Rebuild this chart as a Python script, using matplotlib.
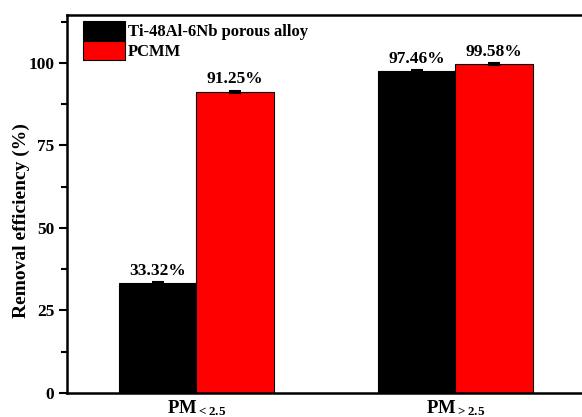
import matplotlib
matplotlib.use("Agg")
import matplotlib.pyplot as plt
import numpy as np
from matplotlib.ticker import MultipleLocator

plt.rcParams['font.family'] = ['Liberation Serif']
plt.rcParams['font.weight'] = 'bold'
plt.rcParams['mathtext.fontset'] = 'custom'
plt.rcParams['mathtext.rm'] = 'Liberation Serif:bold'
plt.rcParams['mathtext.it'] = 'Liberation Serif:bold'
plt.rcParams['mathtext.bf'] = 'Liberation Serif:bold'

categories = ["PM$_{<2.5}$", "PM$_{>2.5}$"]
series_names = ["Ti-48Al-6Nb porous alloy", "PCMM"]
alloy = [33.32, 97.46]
pcmm = [91.25, 99.58]
alloy_err = [0.3, 0.3]
pcmm_err = [0.3, 0.3]
colors = ["black", "red"]

fig = plt.figure(figsize=(5.82, 4.17), dpi=100)
ax = fig.add_axes([0.115, 0.0576, 0.89, 0.9064])

x = np.arange(len(categories))
w = 0.3
for vals, errs, col, name, off in [(alloy, alloy_err, colors[0], series_names[0], -w/2),
                                   (pcmm, pcmm_err, colors[1], series_names[1], w/2)]:
    ax.bar(x + off, vals, w, color=col, edgecolor='black', linewidth=0.8, label=name,
           yerr=errs, capsize=4, error_kw=dict(elinewidth=1, capthick=1.5, ecolor='black'))
    for xi, v in zip(x + off, vals):
        ax.text(xi, v + 1.3, f"{v:.2f}%", ha='center', va='bottom', fontsize=12.5, fontweight='bold')

ax.set_xlim(-0.5, 1.5)
ax.set_ylim(0, 114.5)
ax.set_xticks(x)
ax.set_xticklabels(categories, fontsize=13.5)
ax.tick_params(axis='x', length=0, pad=4)
ax.yaxis.set_major_locator(MultipleLocator(25))
ax.yaxis.set_minor_locator(MultipleLocator(12.5))
ax.tick_params(axis='y', which='major', length=6, width=1.5, direction='out', labelsize=12.5, pad=3)
ax.tick_params(axis='y', which='minor', length=4, width=1.5, direction='out')
ax.set_ylabel("Removal efficiency (%)", fontsize=14, fontweight='bold')
ax.yaxis.set_label_coords(-0.072, 0.455)
for s in ax.spines.values():
    s.set_linewidth(1.8)

ax.legend(loc='upper left', frameon=False, fontsize=12, handlelength=2.5, handleheight=1.4,
          borderaxespad=0.0, borderpad=0.0, labelspacing=0.05, handletextpad=0.2,
          bbox_to_anchor=(0.031, 0.985))

fig.savefig("out.png", dpi=100)
